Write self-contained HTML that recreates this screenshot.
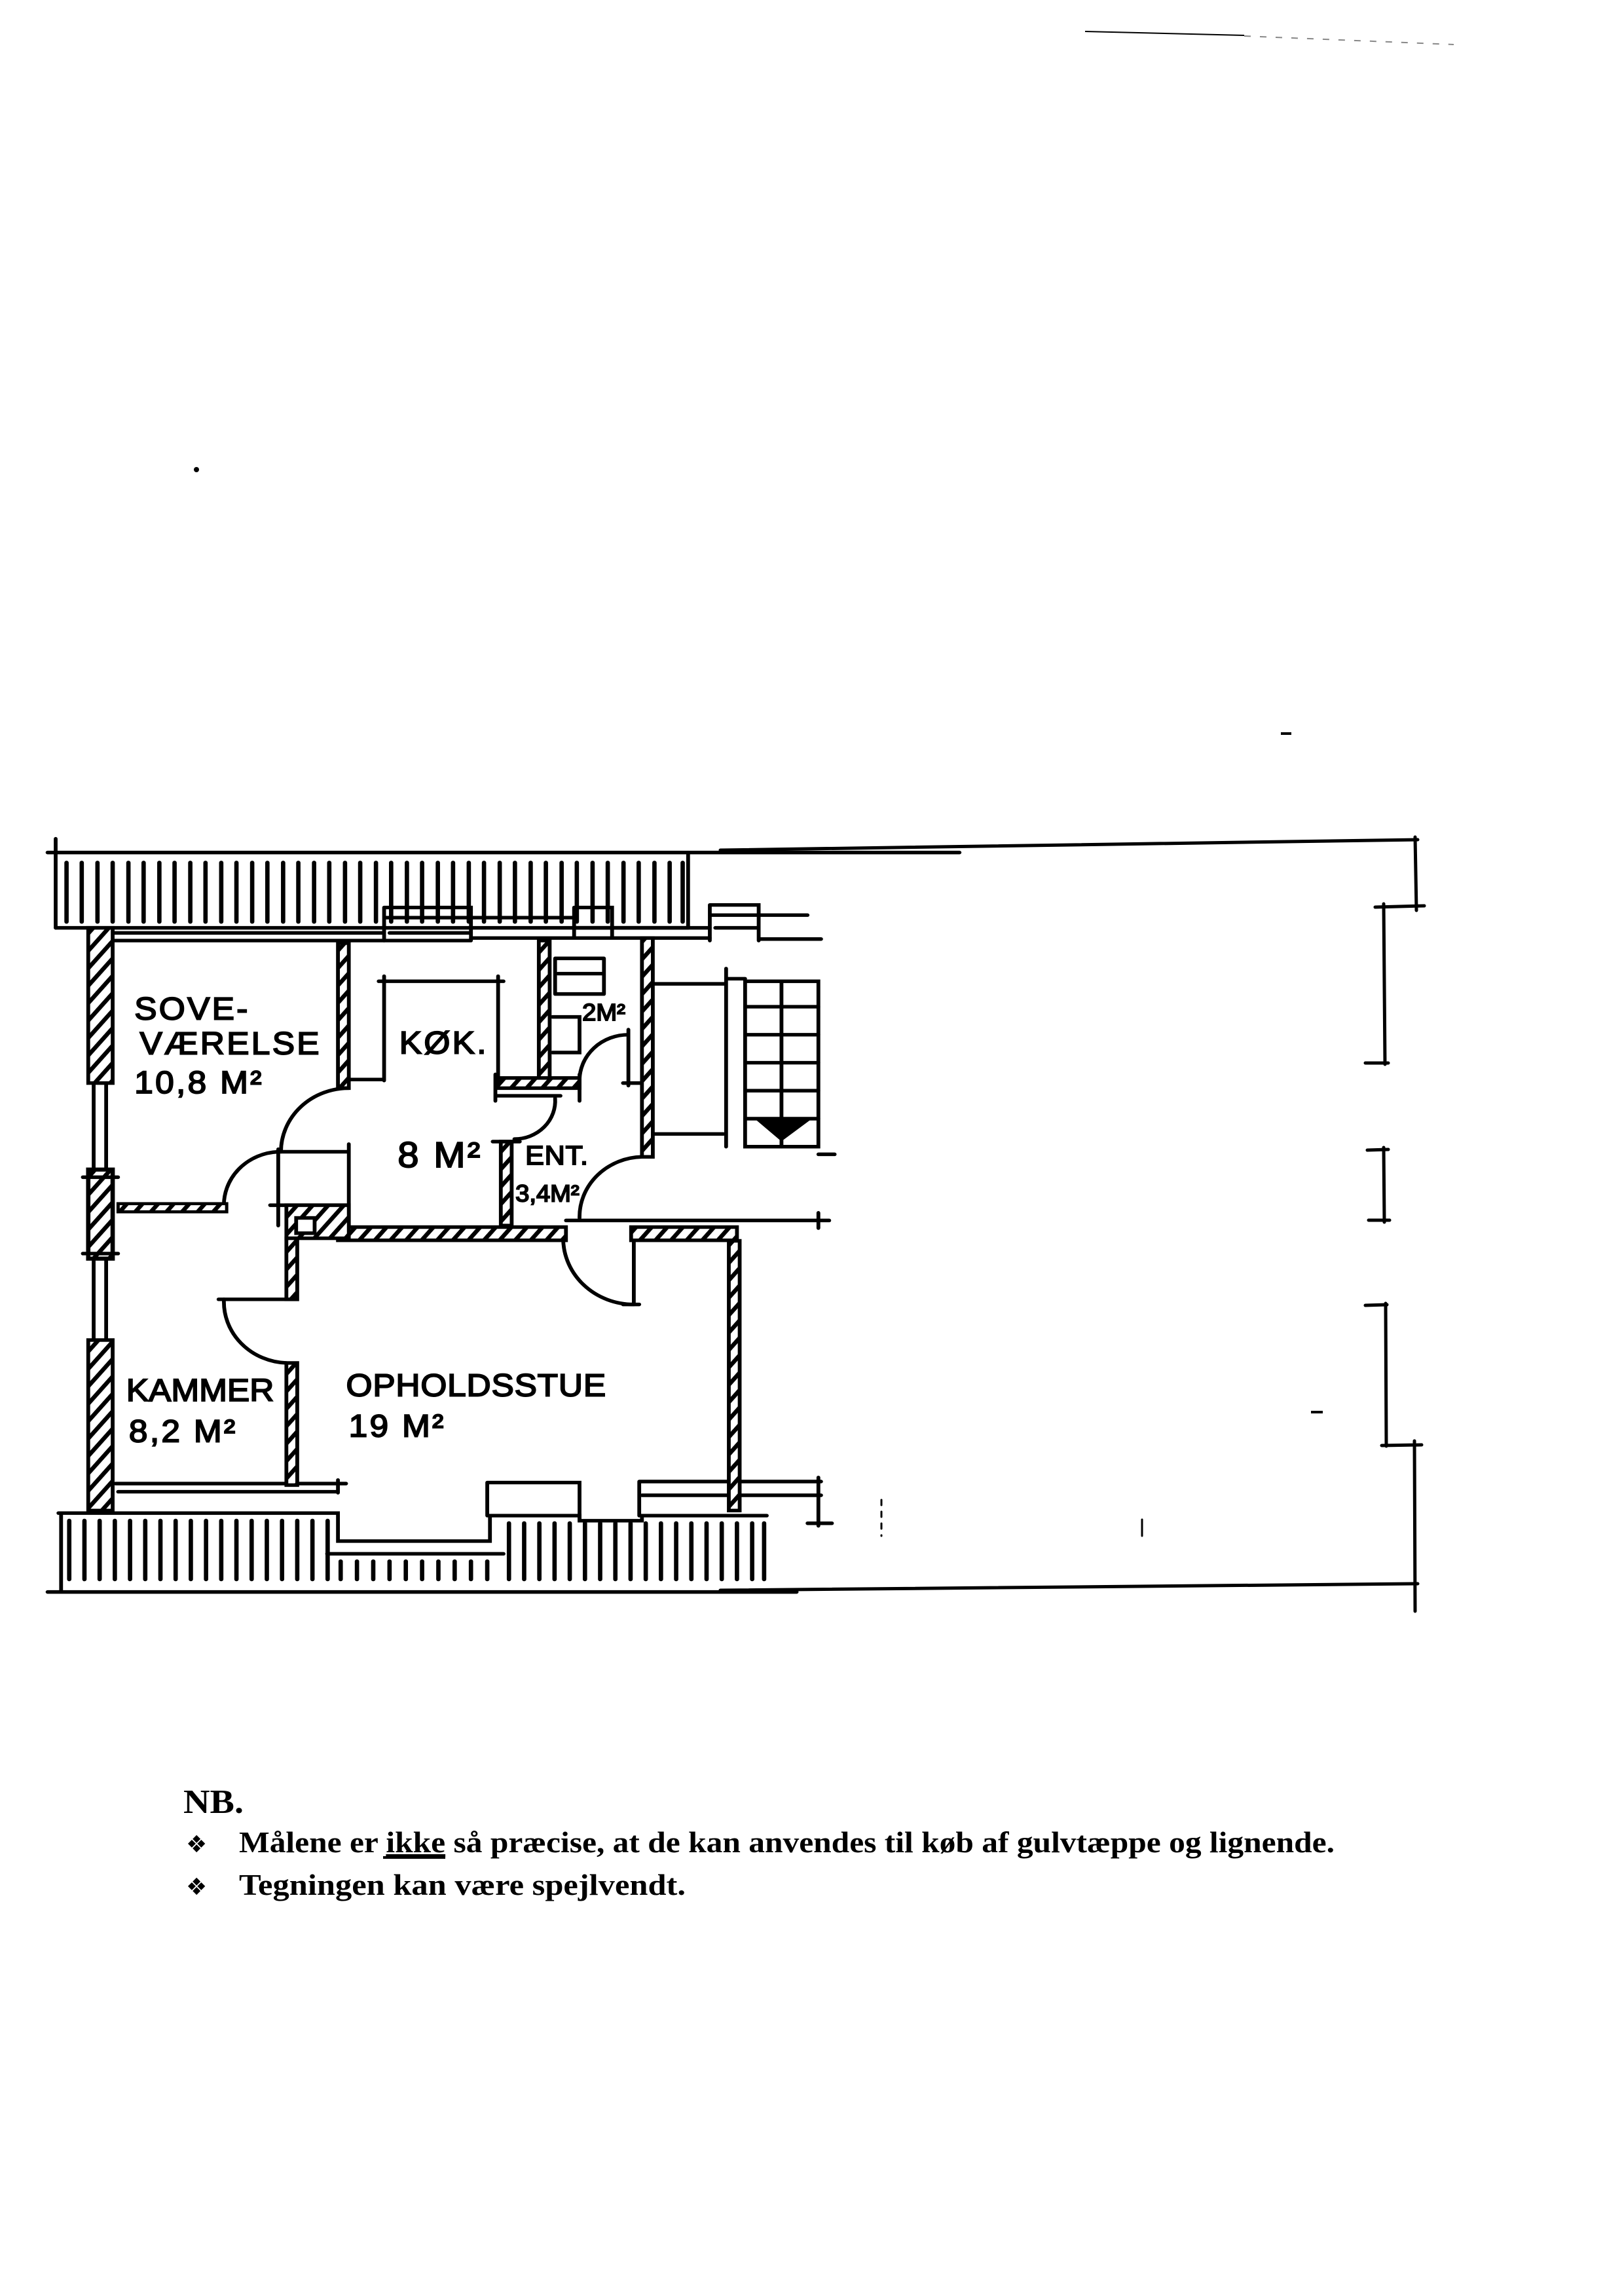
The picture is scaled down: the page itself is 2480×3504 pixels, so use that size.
<!DOCTYPE html>
<html><head><meta charset="utf-8"><style>
html,body{margin:0;padding:0;background:#fff}
svg{display:block}
.hw{font-family:"Liberation Sans",sans-serif;font-size:62px;fill:#000;stroke:#000;stroke-width:2.5;letter-spacing:4px}
</style></head><body>
<svg width="2480" height="3504" viewBox="0 0 2480 3504" xmlns="http://www.w3.org/2000/svg">
<defs>
<pattern id="h" patternUnits="userSpaceOnUse" width="22" height="22" patternTransform="rotate(40)">
<rect width="22" height="22" fill="#fff"/><rect x="0" y="0" width="8" height="22" fill="#000"/>
</pattern>
</defs>
<rect width="2480" height="3504" fill="#fff"/>
<!-- stray marks -->
<line x1="1657" y1="48" x2="1900" y2="54" stroke="#000" stroke-width="2"/>
<line x1="1900" y1="55" x2="2220" y2="68" stroke="#888" stroke-width="2" stroke-dasharray="10 14"/>
<circle cx="300" cy="717" r="4" fill="#000"/>
<line x1="1956" y1="1120" x2="1972" y2="1120" stroke="#000" stroke-width="4"/>
<line x1="2002" y1="2156" x2="2020" y2="2156" stroke="#000" stroke-width="4"/>

<!-- right side (original coords) -->
<g stroke="#000" stroke-width="5" fill="none" stroke-linecap="round">
<line x1="1100" y1="1298" x2="2165" y2="1282"/>
<line x1="2161" y1="1278" x2="2163" y2="1390"/>
<line x1="2100" y1="1385" x2="2175" y2="1383"/>
<line x1="2113" y1="1380" x2="2115" y2="1625"/>
<line x1="2085" y1="1623" x2="2120" y2="1623"/>
<line x1="2088" y1="1756" x2="2120" y2="1755"/>
<line x1="2113" y1="1752" x2="2114" y2="1866"/>
<line x1="2090" y1="1863" x2="2122" y2="1863"/>
<line x1="2085" y1="1993" x2="2118" y2="1992"/>
<line x1="2116" y1="1990" x2="2117" y2="2208"/>
<line x1="2110" y1="2207" x2="2171" y2="2206"/>
<line x1="2160" y1="2200" x2="2161" y2="2460"/>
<line x1="1100" y1="2428" x2="2165" y2="2418"/>
<line x1="1744" y1="2320" x2="1744" y2="2345" stroke-width="3"/>
<line x1="1346" y1="2290" x2="1346" y2="2345" stroke-width="3" stroke-dasharray="8 10"/>
</g>

<!-- main plan in zoom coords -->
<g transform="matrix(0.829,0,0,0.777,56,1269)" stroke="#000" fill="none" stroke-width="7" stroke-linecap="round">
<!-- top band -->
<line x1="20" y1="42" x2="1700" y2="42"/>
<line x1="35" y1="15" x2="35" y2="190"/>
<line x1="35" y1="190" x2="1200" y2="190"/>
<line x1="1200" y1="42" x2="1200" y2="190"/>
<path stroke-width="8" d="M55 62V178M83 62V178M112 62V178M140 62V178M169 62V178M197 62V178M226 62V178M254 62V178M283 62V178M311 62V178M340 62V178M368 62V178M397 62V178M425 62V178M454 62V178M482 62V178M511 62V178M539 62V178M568 62V178M596 62V178M625 62V178M653 62V178M682 62V178M710 62V178M739 62V178M767 62V178M796 62V178M824 62V178M853 62V178M881 62V178M910 62V178M938 62V178M967 62V178M995 62V178M1024 62V178M1052 62V178M1081 62V178M1109 62V178M1138 62V178M1166 62V178M1190 62V178"/>
<!-- top window frames -->
<line x1="140" y1="200" x2="640" y2="200"/><line x1="140" y1="215" x2="640" y2="215"/>
<path d="M640 150H800V215M640 150V215M640 170H990M650 200H800M640 215H800"/>
<path d="M990 150H1060V210M990 150V210M990 190H1240M800 210H1115M1060 210H1240"/>
<path d="M1240 145H1330V215M1240 145V215M1240 165H1420M1330 212H1445M1250 190H1330"/>
<!-- left wall -->
<rect x="95" y="190" width="45" height="305" fill="url(#h)"/>
<path d="M105 495V665M128 495V665"/>
<rect x="95" y="665" width="45" height="175" fill="url(#h)" stroke-width="8"/>
<path d="M85 680H150M85 830H150"/>
<path d="M105 840V1000M128 840V1000"/>
<rect x="95" y="1000" width="45" height="335" fill="url(#h)"/>
<!-- bottom band -->
<path d="M40 1340H555V1395H835V1345H1000V1355H1115V1345H1345"/>
<path d="M535 1420H860M45 1340V1495M20 1495H1400"/>
<path stroke-width="8" d="M60 1355V1470M88 1355V1470M116 1355V1470M144 1355V1470M172 1355V1470M200 1355V1470M228 1355V1470M256 1355V1470M284 1355V1470M312 1355V1470M340 1355V1470M368 1355V1470M396 1355V1470M424 1355V1470M452 1355V1470M480 1355V1470M508 1355V1470M536 1355V1470M560 1435V1470M590 1435V1470M620 1435V1470M650 1435V1470M680 1435V1470M710 1435V1470M740 1435V1470M770 1435V1470M800 1435V1470M830 1435V1470M870 1360V1470M898 1360V1470M926 1360V1470M954 1360V1470M982 1360V1470M1010 1360V1470M1038 1360V1470M1066 1360V1470M1094 1360V1470M1122 1360V1470M1150 1360V1470M1178 1360V1470M1206 1360V1470M1234 1360V1470M1262 1360V1470M1290 1360V1470M1318 1360V1470M1340 1360V1470"/>
<!-- bottom windows -->
<path d="M145 1282H570M150 1298H555M830 1280H1000V1355M830 1280V1345M1110 1278H1445M1110 1278V1345M1115 1305H1445M1440 1270V1365M1420 1360H1465M555 1275V1300"/>
<!-- interior walls -->
<rect x="555" y="220" width="20" height="285" fill="url(#h)"/>
<rect x="925" y="215" width="20" height="275" fill="url(#h)"/>
<rect x="850" y="485" width="150" height="20" fill="url(#h)"/>
<path d="M845 520H965M845 478V530M1000 478V530"/>
<path d="M630 295H860M640 285V490M850 285V490M575 488H640"/>
<path d="M955 250H1045M955 250V320M1045 250V320M955 320H1045M960 280H1045M950 365H1000V435H950"/>
<path d="M1090 390V500M1080 495H1115"/>
<path d="M1090 400A90 90 0 0 0 1000 490"/>
<rect x="1115" y="210" width="20" height="430" fill="url(#h)"/>
<!-- stair -->
<path d="M1135 300H1270M1270 270V620M1270 290H1305"/>
<rect x="1305" y="295" width="135" height="325"/>
<path d="M1372 295V620M1305 345H1440M1305 400H1440M1305 455H1440M1305 510H1440M1305 565H1440M1135 595H1265M1440 635H1470"/>
<polygon points="1330,567 1420,567 1372,605" fill="#000"/>
<path d="M975 765H1460M1440 750V780"/>
<!-- doors -->
<path d="M575 505A125 125 0 0 0 450 630"/>
<path d="M445 630H575M445 625V775M575 615V775M430 735H575"/>
<path d="M445 630A105 105 0 0 0 345 740"/>
<rect x="150" y="732" width="200" height="16" fill="url(#h)" stroke-width="6"/>
<path d="M955 525A75 75 0 0 1 880 605"/>
<rect x="855" y="610" width="20" height="165" fill="url(#h)"/>
<path d="M840 610H890"/>
<path d="M1115 640A118 118 0 0 0 1000 760"/>
<path d="M1100 800V930M1080 930H1110"/>
<path d="M970 795A130 130 0 0 0 1100 930"/>
<path d="M335 920H470"/>
<path d="M345 920A120 120 0 0 0 460 1045"/>
<!-- stue walls -->
<rect x="555" y="778" width="420" height="26" fill="url(#h)"/>
<rect x="1095" y="778" width="195" height="26" fill="url(#h)"/>
<rect x="460" y="735" width="115" height="65" fill="url(#h)"/>
<rect x="478" y="760" width="34" height="30" fill="#fff"/>
<rect x="460" y="800" width="20" height="120" fill="url(#h)"/>
<rect x="460" y="1045" width="20" height="240" fill="url(#h)"/>
<rect x="1275" y="805" width="20" height="530" fill="url(#h)"/>
<!-- labels -->
<g stroke="none">
<text class="hw" x="180" y="370">SOVE-</text>
<text class="hw" x="190" y="438">VÆRELSE</text>
<text class="hw" x="180" y="515">10,8 M²</text>
<text class="hw" x="668" y="437">KØK.</text>
<text class="hw" x="665" y="660" style="font-size:70px">8 M²</text>
<text class="hw" x="900" y="655" style="font-size:52px;letter-spacing:1px">ENT.</text>
<text class="hw" x="882" y="728" style="font-size:46px;letter-spacing:0">3,4M²</text>
<text class="hw" x="1005" y="372" style="font-size:46px;letter-spacing:0">2M²</text>
<text class="hw" x="165" y="1120" style="letter-spacing:0">KAMMER</text>
<text class="hw" x="170" y="1200">8,2 M²</text>
<text class="hw" x="570" y="1110" style="letter-spacing:1px">OPHOLDSSTUE</text>
<text class="hw" x="575" y="1190">19 M²</text>
</g>
</g>

<!-- notes -->
<g font-family="Liberation Serif, serif" font-weight="bold" fill="#000">
<text x="280" y="2768" font-size="52" textLength="92" lengthAdjust="spacingAndGlyphs">NB.</text>
<text x="284" y="2828" font-size="36" font-family="DejaVu Sans, sans-serif">❖</text>
<text x="365" y="2828" font-size="46" textLength="1673" lengthAdjust="spacingAndGlyphs">Målene er <tspan text-decoration="underline">ikke</tspan> så præcise, at de kan anvendes til køb af gulvtæppe og lignende.</text>
<text x="284" y="2893" font-size="36" font-family="DejaVu Sans, sans-serif">❖</text>
<text x="365" y="2893" font-size="46" textLength="682" lengthAdjust="spacingAndGlyphs">Tegningen kan være spejlvendt.</text>
</g>
<line x1="585" y1="2836" x2="680" y2="2836" stroke="#000" stroke-width="4"/>
</svg>
</body></html>
